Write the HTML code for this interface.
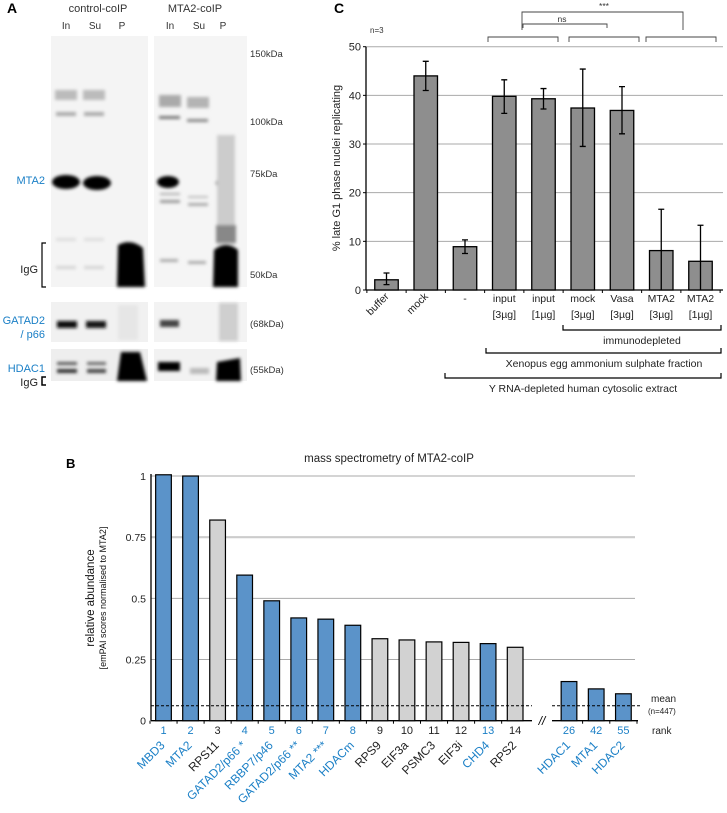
<!DOCTYPE html>
<html><head><meta charset="utf-8">
<style>
body{margin:0;background:#fff;}
svg{display:block;font-family:"Liberation Sans",Arial,sans-serif;}
</style></head>
<body>
<svg id="fig" width="727" height="813" viewBox="0 0 727 813" xmlns="http://www.w3.org/2000/svg">
<defs>
<filter id="b1" x="-50%" y="-50%" width="200%" height="200%"><feGaussianBlur stdDeviation="1.6"/></filter>
</defs>

<!-- PANEL A -->
<g id="panelA">
<text x="7" y="13" font-size="14" font-weight="bold">A</text>
<text x="98" y="12" font-size="11" text-anchor="middle" fill="#333">control-coIP</text>
<text x="195" y="12" font-size="11" text-anchor="middle" fill="#333">MTA2-coIP</text>
<g font-size="10" fill="#333" text-anchor="middle">
<text x="66" y="29">In</text><text x="95" y="29">Su</text><text x="122" y="29">P</text>
<text x="170" y="29">In</text><text x="199" y="29">Su</text><text x="223" y="29">P</text>
</g>
<g font-size="9.5" fill="#333">
<text x="250" y="57">150kDa</text><text x="250" y="125">100kDa</text><text x="250" y="177">75kDa</text>
<text x="250" y="278">50kDa</text><text x="250" y="327">(68kDa)</text><text x="250" y="373">(55kDa)</text>
</g>
<text x="45" y="184" font-size="11" fill="#1a7fc6" text-anchor="end">MTA2</text>
<text x="38" y="273" font-size="11" fill="#222" text-anchor="end">IgG</text>
<path d="M46,243 H42 V287 H46" fill="none" stroke="#000" stroke-width="1.2"/>
<text x="45" y="324" font-size="11" fill="#1a7fc6" text-anchor="end">GATAD2</text>
<text x="45" y="338" font-size="11" fill="#1a7fc6" text-anchor="end">/ p66</text>
<text x="45" y="372" font-size="11" fill="#1a7fc6" text-anchor="end">HDAC1</text>
<text x="38" y="386" font-size="11" fill="#222" text-anchor="end">IgG</text>
<path d="M46,377 H42 V385 H46" fill="none" stroke="#000" stroke-width="1.5"/>

<g>
<rect x="51" y="36" width="97" height="251" fill="#f4f4f4"/>
<g filter="url(#b1)">
<rect x="55" y="90" width="22" height="10" fill="#bbb"/><rect x="83" y="90" width="22" height="10" fill="#bbb"/>
<rect x="56" y="112" width="20" height="4" fill="#aaa"/><rect x="84" y="112" width="20" height="4" fill="#aaa"/>
<ellipse cx="66" cy="182" rx="14" ry="7" fill="#000"/><ellipse cx="97" cy="183" rx="14" ry="7" fill="#000"/>
<rect x="56" y="238" width="20" height="3" fill="#ddd"/><rect x="84" y="238" width="20" height="3" fill="#ddd"/>
<rect x="56" y="266" width="20" height="3" fill="#d4d4d4"/><rect x="84" y="266" width="20" height="3" fill="#d4d4d4"/>
</g>
<path d="M118,245 Q131,238 143,248 L145,287 L117,287 Z" fill="#000" filter="url(#b1)"/>
</g>
<g>
<rect x="154" y="36" width="93" height="251" fill="#f5f5f5"/>
<g filter="url(#b1)">
<rect x="159" y="95" width="22" height="12" fill="#aaa"/><rect x="187" y="97" width="22" height="11" fill="#b4b4b4"/>
<rect x="159" y="116" width="21" height="3" fill="#777"/><rect x="187" y="119" width="21" height="3" fill="#888"/>
<ellipse cx="168" cy="182" rx="11" ry="6" fill="#000"/>
<rect x="216" y="181" width="19" height="4" fill="#444"/>
<rect x="160" y="193" width="20" height="2" fill="#aaa"/><rect x="160" y="200" width="20" height="3" fill="#999"/>
<rect x="188" y="196" width="20" height="2" fill="#bbb"/><rect x="188" y="203" width="20" height="3" fill="#aaa"/>
<rect x="160" y="259" width="18" height="3" fill="#aaa"/><rect x="188" y="261" width="18" height="3" fill="#aaa"/>
<rect x="217" y="135" width="18" height="110" fill="#ccc"/>
<rect x="216" y="225" width="20" height="18" fill="#888"/>
</g>
<path d="M214,250 Q226,240 238,250 L238,287 L213,287 Z" fill="#000" filter="url(#b1)"/>
</g>
<g>
<rect x="51" y="302" width="97" height="40" fill="#f1f1f1"/>
<g filter="url(#b1)"><rect x="57" y="321" width="20" height="7" fill="#111"/><rect x="86" y="321" width="20" height="7" fill="#181818"/><rect x="118" y="305" width="20" height="35" fill="#e6e6e6"/></g>
</g>
<g>
<rect x="154" y="302" width="93" height="40" fill="#f3f3f3"/>
<g filter="url(#b1)"><rect x="160" y="320" width="19" height="7" fill="#444"/><rect x="219" y="303" width="19" height="38" fill="#cfcfcf"/></g>
</g>
<g>
<rect x="51" y="349" width="97" height="32" fill="#eee"/>
<g filter="url(#b1)"><rect x="57" y="362" width="20" height="3" fill="#555"/><rect x="57" y="369" width="20" height="4" fill="#333"/>
<rect x="87" y="362" width="19" height="3" fill="#666"/><rect x="87" y="369" width="19" height="4" fill="#444"/>
<path d="M121,352 L140,352 L147,381 L117,381 Z" fill="#000"/></g>
</g>
<g>
<rect x="154" y="349" width="93" height="32" fill="#f2f2f2"/>
<g filter="url(#b1)"><rect x="158" y="362" width="22" height="9" fill="#000"/><rect x="190" y="368" width="19" height="6" fill="#bbb"/>
<path d="M217,362 L240,358 L241,381 L216,381 Z" fill="#000"/></g>
</g>
</g>

<!-- PANEL C -->
<text x="334" y="13" font-size="14" font-weight="bold">C</text>
<text x="370" y="33" font-size="8" fill="#333">n=3</text>
<g id="panelC"></g>

<!-- PANEL B -->
<text x="66" y="468" font-size="13" font-weight="bold">B</text>
<text x="389" y="462" font-size="11.5" text-anchor="middle" fill="#222">mass spectrometry of MTA2-coIP</text>
<g id="panelB"></g>
</svg>

<script>
// ---------- Panel C data ----------
const cCategories = ["buffer","mock","-","input","input","mock","Vasa","MTA2","MTA2"];
const cSubLabels = ["","","","[3µg]","[1µg]","[3µg]","[3µg]","[3µg]","[1µg]"];
const cValues = [2.1,44.0,8.9,39.8,39.3,37.4,36.9,8.1,5.9];
const cErrLow = [1.0,3.0,1.4,3.5,2.1,7.9,4.8,8.1,5.9];
const cErrHigh = [1.4,3.0,1.4,3.4,2.1,8.0,4.9,8.5,7.4];
const cTicks = [0,10,20,30,40,50];

// ---------- Panel B data ----------
const bNames = ["MBD3","MTA2","RPS11","GATAD2/p66 *","RBBP7/p46","GATAD2/p66 **","MTA2 ***","HDACm","RPS9","EIF3a","PSMC3","EIF3i","CHD4","RPS2","HDAC1","MTA1","HDAC2"];
const bRanks = [1,2,3,4,5,6,7,8,9,10,11,12,13,14,26,42,55];
const bValues = [1.005,1.0,0.82,0.595,0.49,0.42,0.415,0.39,0.335,0.33,0.322,0.32,0.315,0.30,0.16,0.13,0.11];
const bIsComplex = [1,1,0,1,1,1,1,1,0,0,0,0,1,0,1,1,1];
const bTicks = [0,0.25,0.5,0.75,1];
const bTickLabels = ["0","0.25","0.5","0.75","1"];
const bMean = 0.061;

const NS = "http://www.w3.org/2000/svg";
function mk(parent, tag, attrs, text){
  const e = document.createElementNS(NS, tag);
  for (const k in attrs) e.setAttribute(k, attrs[k]);
  if (text !== undefined) e.textContent = text;
  parent.appendChild(e);
  return e;
}

// ---------- draw C ----------
(function(){
  const g = document.getElementById("panelC");
  const x0 = 366, x1 = 723, yTop = 46.7, yBot = 290;
  const yS = v => yBot - (v/50)*(yBot-yTop);
  const step = 39.25, firstX = 386.5;
  const xS = i => firstX + i*step;
  cTicks.forEach(t=>{
    if (t>0){ const l = mk(g,"line",{x1:x0,x2:x1,y1:yS(t),y2:yS(t),stroke:"#aaa","stroke-width":1});
      
       }
    const tx = mk(g,"text",{x:x0-5,y:yS(t)+4,"font-size":11,"text-anchor":"end",fill:"#222"},String(t));
    
    
    const tk = mk(g,"line",{x1:x0-3,x2:x0,y1:yS(t),y2:yS(t),stroke:"#000"});
    
    
  });
  const ya = mk(g,"line",{x1:x0,x2:x0,y1:yTop,y2:yBot,stroke:"#000","stroke-width":1.3});
  
  
  const xa = mk(g,"line",{x1:x0,x2:x1,y1:yBot,y2:yBot,stroke:"#000","stroke-width":1.3});
  
  
  for (let i=0;i<=cValues.length;i++){
    const xx = xS(i)-step/2;
    const t = mk(g,"line",{x1:xx,x2:xx,y1:yBot,y2:yBot+3,stroke:"#000"});
    
    
  }
  const bw = 23.5;
  cValues.forEach((v,i)=>{
    const r = mk(g,"rect",{x:xS(i)-bw/2,y:yS(v),width:bw,height:yBot-yS(v),fill:"#8e8e8e",stroke:"#000","stroke-width":1.3});
    
    
    const lo = Math.max(0, v-cErrLow[i]), hi = v+cErrHigh[i];
    const e = mk(g,"path",{d:`M${xS(i)},${yS(lo)}V${yS(hi)}M${xS(i)-3},${yS(hi)}H${xS(i)+3}`+(lo>0?`M${xS(i)-3},${yS(lo)}H${xS(i)+3}`:""),stroke:"#000","stroke-width":1.3,fill:"none"});
    
    
    if (i<2){
      const t = mk(g,"text",{x:xS(i)+3,y:297,"font-size":10.5,"text-anchor":"end",fill:"#222",transform:`rotate(-45 ${xS(i)+3} 297)`},cCategories[i]);
      
      
    } else {
      const t = mk(g,"text",{x:xS(i),y:302,"font-size":10.5,"text-anchor":"middle",fill:"#222"},cCategories[i]);
      
      
      if (cSubLabels[i]){
        const s = mk(g,"text",{x:xS(i),y:318,"font-size":10.5,"text-anchor":"middle",fill:"#222"},cSubLabels[i]);
        
        
      }
    }
  });
  const yt = mk(g,"text",{x:340,y:168,"font-size":11,"text-anchor":"middle",fill:"#222",transform:"rotate(-90 340 168)"},"% late G1 phase nuclei replicating");
  
  
  const brs = [[563,721,330,"immunodepleted",642,344],[486,721,353,"Xenopus egg ammonium sulphate fraction",604,367],[445,721,378,"Y RNA-depleted human cytosolic extract",583,392]];
  brs.forEach(b=>{
    const p = mk(g,"path",{d:`M${b[0]},${b[2]-5}V${b[2]}H${b[1]}V${b[2]-5}`,fill:"none",stroke:"#000","stroke-width":1.2});
    
    
    const t = mk(g,"text",{x:b[4],y:b[5],"font-size":10.5,"text-anchor":"middle",fill:"#222"},b[3]);
    
    
  });
  const tb = [[488,558,37,42],[569,639,37,42],[646,716,37,42],[523,607,24,28],[522,683,12,30]];
  tb.forEach(b=>{
    const p = mk(g,"path",{d:`M${b[0]},${b[3]}V${b[2]}H${b[1]}V${b[3]}`,fill:"none",stroke:"#444","stroke-width":0.9});
    
    
  });
  const ns = mk(g,"text",{x:562,y:22,"font-size":8.5,"text-anchor":"middle",fill:"#333"},"ns");
  
  
  const st = mk(g,"text",{x:604,y:9,"font-size":8.5,"text-anchor":"middle",fill:"#333"},"***");
  
  
})();

// ---------- draw B ----------
(function(){
  const g = document.getElementById("panelB");
  const yTop = 476, yBot = 720.7;
  const yS = v => yBot - v*(yBot-yTop);
  const xS = i => i<14 ? 163.5 + i*27.05 : 569 + (i-14)*27.2;
  bTicks.forEach((t,k)=>{
    if (t>0){ const l = mk(g,"line",{x1:151,x2:635,y1:yS(t),y2:yS(t),stroke:t===0.75?"#ccc":"#aaa","stroke-width":t===0.75?2.2:1});
      
       }
    const tx = mk(g,"text",{x:146,y:yS(t)+4,"font-size":10.5,"text-anchor":"end",fill:"#222"},bTickLabels[k]);
    
    
  });
  const ya = mk(g,"line",{x1:151,x2:151,y1:yTop-2,y2:yBot,stroke:"#000","stroke-width":1.3});
  
  
  const xa1 = mk(g,"line",{x1:151,x2:532,y1:yBot,y2:yBot,stroke:"#000","stroke-width":1.3});
  
  
  const xa2 = mk(g,"line",{x1:552,x2:638,y1:yBot,y2:yBot,stroke:"#000","stroke-width":1.3});
  
  
  const br = mk(g,"text",{x:542,y:725,"font-size":12,"text-anchor":"middle",fill:"#000","font-style":"italic"},"//");
  
  
  for (let i=0;i<=17;i++){
    if (i===14) continue;
    const xx = i<14 ? xS(i)-13.5 : xS(i)-13.6;
    const t = mk(g,"line",{x1:xx,x2:xx,y1:yBot,y2:yBot+3,stroke:"#000"});
    
    
  }
  const bw = 15.7;
  bValues.forEach((v,i)=>{
    const col = bIsComplex[i] ? "#5b93c9" : "#d2d2d2";
    const tcol = bIsComplex[i] ? "#1a7fc6" : "#222";
    const r = mk(g,"rect",{x:xS(i)-bw/2,y:yS(v),width:bw,height:yBot-yS(v),fill:col,stroke:"#000","stroke-width":1.2});
    
    
    const rk = mk(g,"text",{x:xS(i),y:734,"font-size":11,"text-anchor":"middle",fill:tcol},String(bRanks[i]));
    
    
    const lx = xS(i)+2, ly = 746;
    const nm = mk(g,"text",{x:lx,y:ly,"font-size":12,"text-anchor":"end",fill:tcol,transform:`rotate(-45 ${lx} ${ly})`},bNames[i]);
    
    
  });
  const m1 = mk(g,"line",{x1:151,x2:532,y1:yS(bMean),y2:yS(bMean),stroke:"#000","stroke-width":1,"stroke-dasharray":"3,2"});
  
  
  const m2 = mk(g,"line",{x1:552,x2:641,y1:yS(bMean),y2:yS(bMean),stroke:"#000","stroke-width":1,"stroke-dasharray":"3,2"});
  
  
  const mt = mk(g,"text",{x:651,y:702,"font-size":10,fill:"#222"},"mean");
  
  
  const nt = mk(g,"text",{x:648,y:714,"font-size":8,fill:"#222"},"(n=447)");
  
  
  const rt = mk(g,"text",{x:652,y:734,"font-size":10,fill:"#222"},"rank");
  
  
  const y1 = mk(g,"text",{x:94,y:598,"font-size":11.5,"text-anchor":"middle",fill:"#111",transform:"rotate(-90 94 598)"},"relative abundance");
  
  
  const y2 = mk(g,"text",{x:106,y:598,"font-size":9,"text-anchor":"middle",fill:"#111",transform:"rotate(-90 106 598)"},"[emPAI scores normalised to MTA2]");
  
  
})();
</script>
</body></html>
